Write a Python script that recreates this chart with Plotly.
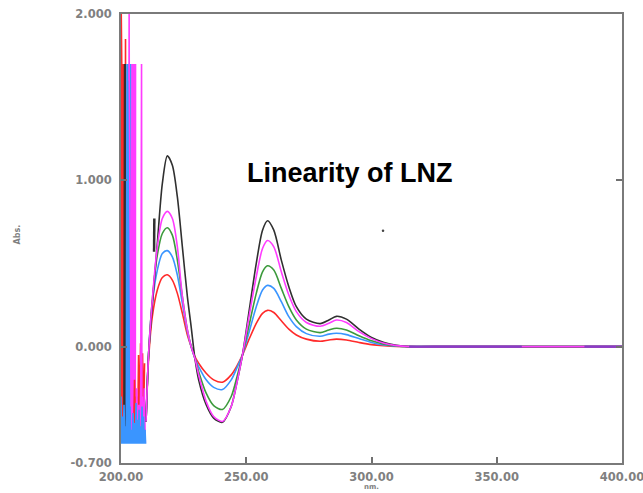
import plotly.graph_objects as go

# ---- data ----
wl = [210, 211, 212.5, 214.5, 216.5, 218.5, 220.5, 222.5, 224.5, 226.5, 228, 229.5,
      231, 234, 237, 240.5, 244, 246.5, 248.5, 251, 254, 256.5, 258.5, 261, 264,
      267, 270, 274, 279.5, 283, 286, 290, 295, 300, 305, 310, 315, 330, 350, 370, 400]

abs_red = [-0.45, -0.08, 0.18, 0.34, 0.415, 0.432, 0.40, 0.32, 0.20, 0.07, 0.0, -0.06,
           -0.10, -0.16, -0.20, -0.214, -0.17, -0.11, -0.05, 0.04, 0.14, 0.20, 0.218, 0.205, 0.155,
           0.105, 0.07, 0.045, 0.032, 0.04, 0.045, 0.04, 0.025, 0.012, 0.005, 0.001, 0.0, 0, 0, 0, 0]
abs_blue = [-0.45, -0.05, 0.26, 0.46, 0.56, 0.577, 0.54, 0.43, 0.26, 0.09, 0.0, -0.07,
            -0.12, -0.20, -0.245, -0.258, -0.20, -0.12, -0.05, 0.08, 0.24, 0.34, 0.368, 0.35, 0.27,
            0.18, 0.12, 0.078, 0.062, 0.075, 0.08, 0.072, 0.048, 0.025, 0.01, 0.003, 0.0, 0, 0, 0, 0]
abs_green = [-0.45, -0.05, 0.28, 0.55, 0.68, 0.715, 0.67, 0.52, 0.30, 0.10, 0.0, -0.07,
             -0.15, -0.28, -0.355, -0.378, -0.30, -0.17, -0.05, 0.12, 0.32, 0.45, 0.486, 0.46, 0.35,
             0.24, 0.16, 0.105, 0.084, 0.10, 0.11, 0.10, 0.065, 0.035, 0.015, 0.004, 0.0, 0, 0, 0, 0]
abs_magenta = [-0.45, -0.05, 0.28, 0.60, 0.77, 0.813, 0.77, 0.60, 0.30, 0.10, 0.0, -0.07,
               -0.17, -0.33, -0.42, -0.45, -0.36, -0.20, -0.05, 0.17, 0.42, 0.59, 0.638, 0.60, 0.45,
               0.31, 0.21, 0.145, 0.122, 0.14, 0.16, 0.145, 0.09, 0.048, 0.02, 0.006, 0.0, 0, 0, 0, 0]
abs_black = [-0.45, -0.05, 0.25, 0.62, 0.98, 1.147, 1.09, 0.90, 0.60, 0.30, 0.12, -0.07,
             -0.20, -0.35, -0.43, -0.455, -0.36, -0.20, -0.05, 0.20, 0.50, 0.70, 0.757, 0.70, 0.52,
             0.36, 0.24, 0.165, 0.138, 0.16, 0.182, 0.165, 0.105, 0.055, 0.025, 0.008, 0.0, 0, 0, 0, 0]

# flat baseline segments beyond 315 nm (overlapping traces look purple)
base_purple_x = [315, 360, None, 385, 400]
base_purple_y = [0, 0, None, 0, 0]

# noisy region below 210 nm (saturated detector)
noise_red_x = [200.0, 200.1, 200.2, 200.3, 200.4, 200.5, 200.6, 200.7, 200.8, 200.9, 201.0, 201.1,
               201.7, 201.8, 201.9]
noise_red_y = [-0.58, 2.0, -0.58, 1.70, -0.58, 1.70, -0.58, 1.70, -0.58, 1.70, -0.58, 1.70,
               -0.58, 1.85, -0.58]
noise_red_low_x = [205.0, 205.4, 205.8, 206.2, 206.6, 207.0, 207.4, 207.8, 208.2, 208.6, 209.0, 209.4]
noise_red_low_y = [-0.58, -0.20, -0.58, -0.30, -0.58, -0.05, -0.50, 0.02, -0.58, -0.04, -0.45, -0.10]
noise_black_x = [201.1, 201.2, 201.3, 201.4, 201.5, 201.6, 201.7, 201.8, 202.0]
noise_black_y = [-0.58, 1.70, -0.58, 1.70, -0.58, 1.70, -0.58, 1.70, -0.58]
noise_blue_x = [202.1, 202.2, 202.3, 202.4, 202.5, 202.6, 202.7, 202.8, 202.9, 203.0, 203.1, 203.2,
                203.3, 203.4, 203.5, 203.6, 203.7, 203.8, 203.9, 204.0]
noise_blue_y = [-0.58, 1.70, -0.58, 1.70, -0.58, 1.70, -0.58, 1.70, -0.58, 1.70, -0.58, 1.70,
                -0.58, 1.70, -0.58, 1.70, -0.58, 1.70, -0.58, 1.70]
noise_magenta_x = [203.2, 203.25, 203.3, 204.1, 204.2, 204.3, 204.4, 204.5, 204.6, 204.7, 204.8, 204.9,
                   205.0, 205.1, 205.2, 205.3, 205.4, 205.5, 205.6, 205.7, 205.8]
noise_magenta_y = [1.60, 2.0, 1.60, -0.58, 1.70, -0.58, 1.70, -0.58, 1.70, -0.58, 1.70, -0.58,
                   1.70, -0.58, 1.70, -0.58, 1.70, -0.58, 1.70, -0.58, 1.70]
noise_magenta_low_x = [205.9, 206.3, 206.7, 207.1, 207.5, 207.9, 208.2, 208.35, 208.5, 208.9, 209.3, 209.7]
noise_magenta_low_y = [-0.58, -0.25, -0.58, -0.35, -0.58, -0.20, 1.70, -0.58, -0.30, -0.58, -0.25, -0.58]
noise_blue_low_x = [200.0, 200.3, 200.6, 200.9, 201.2, 201.5, 201.8, 202.1, 202.4, 202.7, 203.0, 203.3,
                    203.6, 203.9, 204.2, 204.5, 204.8, 205.1, 205.4, 205.7, 206.0, 206.3, 206.6, 206.9,
                    207.2, 207.5, 207.8, 208.1, 208.4, 208.7, 209.0, 209.3, 209.6, 209.8, 200.0]
noise_blue_low_y = [-0.30, -0.58, -0.42, -0.58, -0.35, -0.58, -0.48, -0.58, -0.38, -0.58, -0.45, -0.58,
                    -0.36, -0.58, -0.50, -0.58, -0.40, -0.58, -0.46, -0.58, -0.34, -0.58, -0.44, -0.58,
                    -0.38, -0.58, -0.48, -0.58, -0.36, -0.58, -0.42, -0.58, -0.50, -0.58, -0.58]
artifact_black_x = [213.2, 213.3]
artifact_black_y = [0.57, 0.77]
dot_x = [304.6]
dot_y = [0.697]

x_ticks = [200, 250, 300, 350, 400]
x_tick_text = ["200.00", "250.00", "300.00", "350.00", "400.00"]
y_ticks = [-0.7, 0.0, 1.0, 2.0]
y_tick_text = ["-0.700", "0.000", "1.000", "2.000"]

RED = "#ff2a2a"
BLUE = "#3a95ff"
GREEN = "#3c9a3c"
MAGENTA = "#ff3cff"
BLACK = "#303030"
PURPLE = "#8a3cc8"

fig = go.Figure()

def noise(x, y, c, w=1.2):
    fig.add_trace(go.Scatter(x=x, y=y, mode="lines", line=dict(color=c, width=w),
                             hoverinfo="skip", showlegend=False))

noise(noise_red_x, noise_red_y, RED, 1.6)
noise(noise_black_x, noise_black_y, BLACK, 1.4)
noise(noise_blue_x, noise_blue_y, BLUE, 1.6)
noise(noise_magenta_x, noise_magenta_y, MAGENTA, 1.6)
noise(noise_red_low_x, noise_red_low_y, RED, 1.6)
noise(noise_magenta_low_x, noise_magenta_low_y, MAGENTA, 1.6)
noise(noise_blue_low_x, noise_blue_low_y, BLUE, 1.6)

for ys, c in [(abs_red, RED), (abs_blue, BLUE), (abs_green, GREEN),
              (abs_black, BLACK), (abs_magenta, MAGENTA)]:
    fig.add_trace(go.Scatter(x=wl, y=ys, mode="lines",
                             line=dict(color=c, width=1.6, shape="spline", smoothing=0.8),
                             showlegend=False))

noise(base_purple_x, base_purple_y, PURPLE, 2.2)
noise(artifact_black_x, artifact_black_y, BLACK, 2.5)
fig.add_trace(go.Scatter(x=dot_x, y=dot_y, mode="markers",
                         marker=dict(color="#444", size=2.5), showlegend=False))

tickfont = dict(family="DejaVu Sans", size=11.5, color="#808080", weight="bold")

fig.update_layout(
    template="none",
    width=643, height=493,
    margin=dict(l=121, r=21, t=14, b=30, autoexpand=False),
    paper_bgcolor="white", plot_bgcolor="white",
    xaxis=dict(range=[200, 400], tickvals=x_ticks, ticktext=x_tick_text, automargin=False,
               ticks="inside", ticklen=6, tickcolor="#707070", tickwidth=1.5,
               showline=True, linecolor="#7a7a7a", linewidth=2, mirror=True,
               showgrid=False, zeroline=False, tickfont=tickfont, ticklabelstandoff=2,
               ticklabeloverflow="allow"),
    yaxis=dict(range=[-0.7, 2.0], tickvals=y_ticks, ticktext=y_tick_text, automargin=False,
               ticks="inside", ticklen=6, tickcolor="#707070", tickwidth=1.5,
               showline=True, linecolor="#7a7a7a", linewidth=2, mirror="ticks",
               showgrid=False, zeroline=False, tickfont=tickfont, ticklabelstandoff=5,
               ticklabeloverflow="allow"),
    annotations=[
        dict(text="Linearity of LNZ", x=291.4, y=1.045, xref="x", yref="y",
             showarrow=False, xanchor="center", yanchor="middle",
             font=dict(family="Liberation Sans", size=27, color="black", weight="bold")),
        dict(text="nm.", x=0.5, y=0, xref="paper", yref="paper", yshift=-24,
             showarrow=False, xanchor="center", yanchor="middle",
             font=dict(family="DejaVu Sans", size=7, color="#808080", weight="bold")),
        dict(text="Abs.", x=0, y=0.508, xref="paper", yref="paper", xshift=-103.5,
             showarrow=False, xanchor="center", yanchor="middle", textangle=-90,
             font=dict(family="DejaVu Sans", size=8, color="#808080", weight="bold")),
    ],
)

fig.write_html("out.html", config={"displayModeBar": False},
               post_script="document.body.style.margin='0px';")
